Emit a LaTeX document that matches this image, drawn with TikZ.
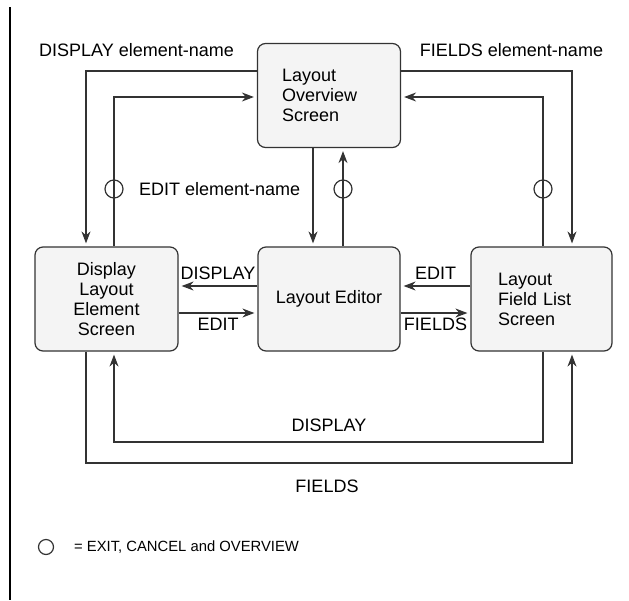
\documentclass[tikz,border=0pt]{standalone}
\usepackage{fontspec}
\setmainfont{Liberation Sans}
\usetikzlibrary{arrows.meta,calc,shapes.geometric}
\definecolor{ln}{HTML}{333333}
\definecolor{bx}{HTML}{F4F4F4}
\begin{document}
\begin{tikzpicture}[x=1pt,y=-1pt,
  every node/.style={font=\fontsize{18}{20}\selectfont},
  box/.style={draw=ln,fill=bx,line width=1.2pt,rounded corners=8pt,minimum height=104pt,inner sep=0pt},
  conn/.style={draw=ln,line width=1.2pt},
  arr/.style={conn,-{Stealth[length=12pt,width=9pt]},shorten >=3pt},
  exitc/.style={draw=ln,line width=1.2pt,circle,minimum size=18pt,inner sep=0pt},
  lbl/.style={inner sep=1pt}]
\useasboundingbox (0,0) rectangle (629,600);
\draw[line width=1.3pt,black] (10,7) -- (10,600);

% boxes
\node[box,minimum width=143pt,text width=94pt,align=left] (ov) at (329,95.5) {Layout\\Overview\\Screen};
\node[box,minimum width=143pt,align=center] (dl) at (106.5,299) {Display\\Layout\\Element\\Screen};
\node[box,minimum width=142pt] (ed) at (329,299) {Layout Editor};
\node[box,minimum width=141pt,text width=87pt,align=left] (fl) at (541.5,299) {Layout\\Field List\\Screen};

% bend points
\coordinate (dA) at (86,71);
\coordinate (dB) at (114,97);
\coordinate (fA) at (572,71);
\coordinate (fB) at (543,97);
\coordinate (bI) at (114,442);
\coordinate (bIr) at (543,442);
\coordinate (bO) at (86,463);
\coordinate (bOr) at (572,463);

% top connectors
\draw[arr] (ov.west |- dA) -- (dA) -- (dA |- dl.north);
\draw[arr] (dB |- dl.north) -- (dB) -- (dB -| ov.west);
\draw[arr] ([xshift=-16pt]ov.south) -- ([xshift=-16pt]ed.north);
\draw[arr] ([xshift=14pt]ed.north) -- ([xshift=14pt]ov.south);
\draw[arr] (fB |- fl.north) -- (fB) -- (fB -| ov.east);
\draw[arr] (ov.east |- fA) -- (fA) -- (fA |- fl.north);

% middle connectors
\draw[arr] ([yshift=13pt]ed.west) -- ([yshift=13pt]dl.east)
  node[lbl,midway,above=5pt] (l1) {DISPLAY};
\draw[arr] ([yshift=-14pt]dl.east) -- ([yshift=-14pt]ed.west)
  node[lbl,midway,below=4pt] (l2) {EDIT};
\draw[arr] ([yshift=13pt]fl.west) -- ([yshift=13pt]ed.east)
  node[lbl,midway,above=5pt] (l3) {EDIT};
\draw[arr] ([yshift=-14pt]ed.east) -- ([yshift=-14pt]fl.west)
  node[lbl,midway,below=3pt] (l4) {FIELDS};

% bottom connectors
\draw[arr] (bIr |- fl.south) -- (bIr) -- (bI) -- (bI |- dl.south);
\draw[arr] (bO |- dl.south) -- (bO) -- (bOr) -- (bOr |- fl.south);
\node[lbl] (l5) at (329,425) {DISPLAY};
\node[lbl] (l6) at (327,486) {FIELDS};

% top labels
\node[lbl] (l7) at (136.5,50) {DISPLAY element-name};
\node[lbl] (l8) at (511.5,50) {FIELDS element-name};
\node[lbl,anchor=west] (l9) at (138,189) {EDIT element-name};

% exit circles
\node[exitc] (x1) at (114,189) {};
\node[exitc] (x2) at (343,189) {};
\node[exitc] (x3) at (543,189) {};

% legend
\node[exitc,minimum size=15pt] (lg) at (46,547) {};
\node[lbl,anchor=west,font=\fontsize{14.8}{18}\selectfont] (lt) at (73,547) {= EXIT, CANCEL and OVERVIEW};
\end{tikzpicture}
\end{document}
